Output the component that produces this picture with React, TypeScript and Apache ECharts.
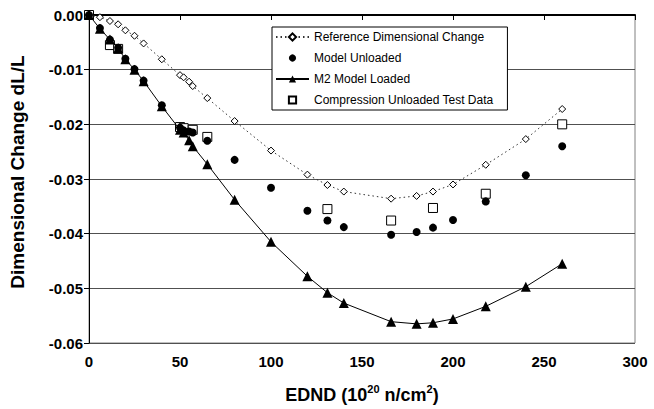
import React, { useEffect, useRef } from "react";
import * as echarts from "echarts";

const refX = [0, 6, 11.5, 16, 20, 25, 30, 40, 50, 52, 55, 57, 65, 80, 100, 120, 131, 140, 166, 180, 189, 200, 218, 240, 260];
const refY = [0, -0.0004, -0.0011, -0.0017, -0.0028, -0.0038, -0.0052, -0.0081, -0.011, -0.0114, -0.0122, -0.013, -0.0152, -0.0194, -0.0248, -0.0292, -0.0311, -0.0323, -0.0336, -0.0331, -0.0323, -0.031, -0.0274, -0.0227, -0.0172];

const unlX = [0, 6, 11.5, 16, 20, 25, 30, 40, 50, 52, 55, 57, 65, 80, 100, 120, 131, 140, 166, 180, 189, 200, 218, 240, 260];
const unlY = [0, -0.0024, -0.0045, -0.006, -0.008, -0.0099, -0.012, -0.0165, -0.0206, -0.0211, -0.0213, -0.0215, -0.023, -0.0265, -0.0316, -0.0358, -0.0376, -0.0388, -0.0402, -0.0397, -0.0389, -0.0375, -0.0341, -0.0293, -0.024];

const m2X = [0, 6, 11.5, 16, 20, 25, 30, 40, 50, 52, 55, 57, 65, 80, 100, 120, 131, 140, 166, 180, 189, 200, 218, 240, 260];
const m2Y = [0, -0.0025, -0.0045, -0.0061, -0.0081, -0.01, -0.0121, -0.0167, -0.021, -0.0215, -0.0229, -0.024, -0.0273, -0.0338, -0.0415, -0.0478, -0.0508, -0.0527, -0.0561, -0.0565, -0.0563, -0.0556, -0.0533, -0.0497, -0.0455];

const compX = [0, 11.5, 16, 50, 52, 57, 65, 131, 166, 189, 218, 260];
const compY = [0, -0.0055, -0.0062, -0.0205, -0.0207, -0.021, -0.0223, -0.0355, -0.0376, -0.0353, -0.0327, -0.02];

const seriesNames = [
  "Reference Dimensional Change",
  "Model Unloaded",
  "M2 Model Loaded",
  "Compression Unloaded Test Data",
];

const xTicks = { min: 0, max: 300, interval: 50 };
const yTicks = { min: -0.06, max: 0, interval: 0.01 };

const zip = (xs: number[], ys: number[]) => xs.map((x, i) => [x, ys[i]]);

const FONT = "'Liberation Sans', Arial, sans-serif";

export default function App() {
  const ref = useRef<HTMLDivElement>(null);
  useEffect(() => {
    document.body.style.margin = "0";
    if (!ref.current) return;
    const chart = echarts.init(ref.current, undefined, { renderer: "svg" });
    chart.setOption({
      animation: false,
      backgroundColor: "#fff",
      textStyle: { fontFamily: FONT, color: "#000" },
      grid: {
        left: 89,
        right: 19,
        top: 15,
        bottom: 66,
        show: true,
        borderColor: "#808080",
        borderWidth: 1,
        backgroundColor: "transparent",
      },
      legend: {
        data: seriesNames,
        orient: "vertical",
        left: 272,
        top: 27,
        itemWidth: 33,
        itemHeight: 9,
        itemGap: 9,
        padding: [4, 14, 4, 3],
        backgroundColor: "#fff",
        borderColor: "#000",
        borderWidth: 1,
        borderRadius: 0,
        textStyle: { fontSize: 12, fontFamily: FONT, color: "#000" },
      },
      xAxis: {
        type: "value",
        min: xTicks.min,
        max: xTicks.max,
        interval: xTicks.interval,
        name: "{b|EDND (10}{s|20}{b| n/cm}{s|2}{b|)}",
        nameLocation: "middle",
        nameGap: 40,
        nameTextStyle: {
          rich: {
            b: { fontSize: 18, fontWeight: "bold", fontFamily: FONT, color: "#000", verticalAlign: "bottom", lineHeight: 21 },
            s: { fontSize: 11, fontWeight: "bold", fontFamily: FONT, color: "#000", verticalAlign: "top", lineHeight: 21, padding: [0, 0, 9, 0] },
          },
        },
        axisLine: { lineStyle: { color: "#000", width: 2 } },
        axisTick: { show: true, inside: false, length: 5, lineStyle: { color: "#000", width: 1 } },
        axisLabel: { fontSize: 15, fontWeight: "bold", color: "#000", margin: 11, fontFamily: FONT },
        splitLine: { show: false },
      },
      yAxis: {
        type: "value",
        min: yTicks.min,
        max: yTicks.max,
        interval: yTicks.interval,
        name: "Dimensional Change dL/L",
        nameLocation: "middle",
        nameGap: 62,
        nameTextStyle: { fontSize: 19, fontWeight: "bold", color: "#000", fontFamily: FONT, padding: [0, 0, 0, 14] },
        axisLine: { show: true, lineStyle: { color: "#000", width: 1 } },
        axisTick: { show: true, inside: false, length: 5, lineStyle: { color: "#000" } },
        axisLabel: {
          fontSize: 15,
          fontWeight: "bold",
          color: "#000",
          margin: 6,
          fontFamily: FONT,
          formatter: (v: number) => (Math.abs(v) < 1e-9 ? "0.00" : v.toFixed(2)),
        },
        splitLine: { show: true, lineStyle: { color: "#505050", width: 1 } },
      },
      series: [
        {
          name: seriesNames[0],
          type: "line",
          data: zip(refX, refY),
          symbol: "diamond",
          symbolSize: 7,
          showSymbol: true,
          lineStyle: { color: "#333", width: 1, type: [1.5, 3] },
          itemStyle: { color: "#fff", borderColor: "#000", borderWidth: 1 },
          z: 3,
        },
        {
          name: seriesNames[1],
          type: "line",
          data: zip(unlX, unlY),
          symbol: "circle",
          symbolSize: 8,
          showSymbol: true,
          lineStyle: { opacity: 0, width: 0 },
          itemStyle: { color: "#000", borderColor: "#000", borderWidth: 0 },
          z: 4,
        },
        {
          name: seriesNames[2],
          type: "line",
          data: zip(m2X, m2Y),
          symbol: "triangle",
          symbolSize: 10,
          showSymbol: true,
          lineStyle: { color: "#000", width: 1 },
          itemStyle: { color: "#000", borderColor: "#000", borderWidth: 0 },
          z: 5,
        },
        {
          name: seriesNames[3],
          type: "line",
          data: zip(compX, compY),
          symbol: "rect",
          symbolSize: 9,
          showSymbol: true,
          lineStyle: { opacity: 0, width: 0 },
          itemStyle: { color: "#fff", borderColor: "#000", borderWidth: 1 },
          z: 2,
        },
      ],
    });
    return () => chart.dispose();
  }, []);
  return <div ref={ref} style={{ width: 654, height: 409 }} />;
}
